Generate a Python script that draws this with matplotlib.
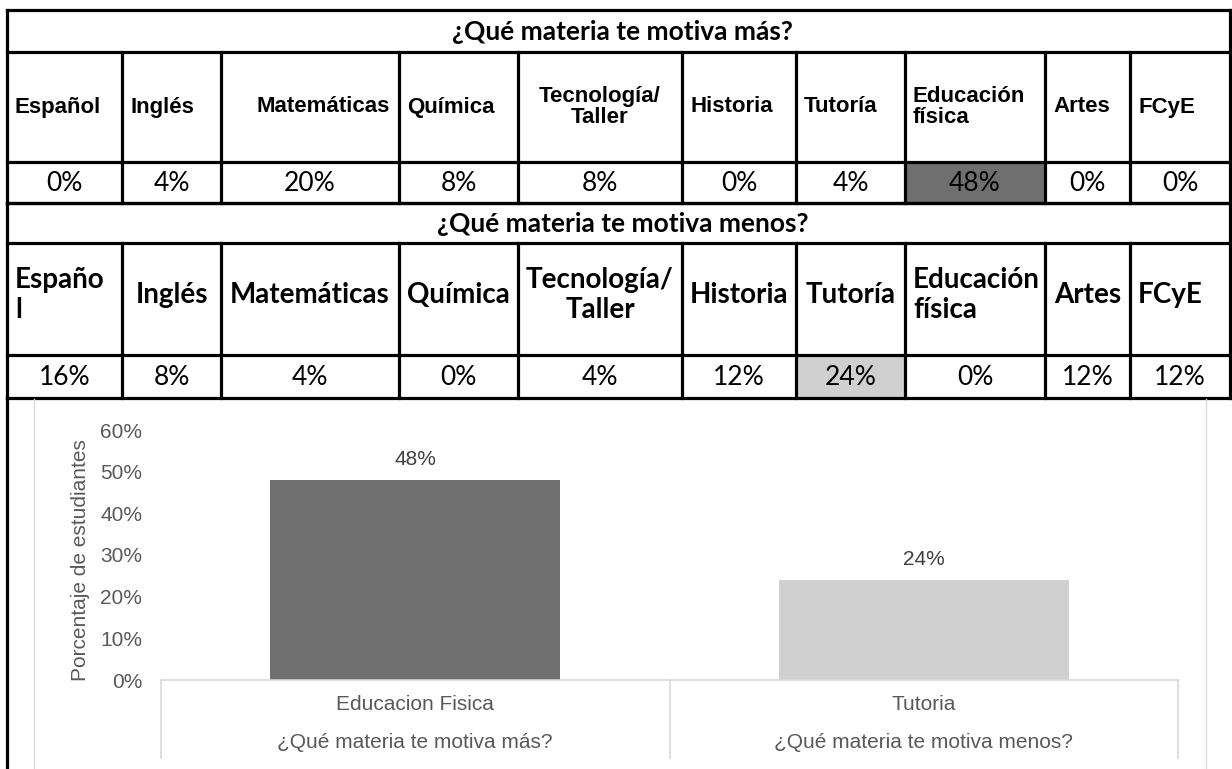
import matplotlib.pyplot as plt
from matplotlib.transforms import blended_transform_factory
from matplotlib.ticker import PercentFormatter

# datos de la tabla
titulo_mas = '¿Qué materia te motiva más?'
titulo_menos = '¿Qué materia te motiva menos?'
materias_mas = ['Español', 'Inglés', 'Matemáticas', 'Química', 'Tecnología/\nTaller',
                'Historia', 'Tutoría', 'Educación\nfísica', 'Artes', 'FCyE']
materias_menos = ['Españo\nl', 'Inglés', 'Matemáticas', 'Química', 'Tecnología/\nTaller',
                  'Historia', 'Tutoría', 'Educación\nfísica', 'Artes', 'FCyE']
pct_mas = [0, 4, 20, 8, 8, 0, 4, 48, 0, 0]
pct_menos = [16, 8, 4, 0, 4, 12, 24, 0, 12, 12]

# datos de la grafica
bar_names = ['Educacion Fisica', 'Tutoria']
bar_groups = [titulo_mas, titulo_menos]
bar_values = [48, 24]
bar_colors = ['#6f6f6f', '#d0d0d0']

W, H = 1232, 769
fig = plt.figure(figsize=(W / 100, H / 100), dpi=100)

# tabla dibujada en coordenadas de pixel
tab = fig.add_axes([0, 0, 1, 1])
tab.set_xlim(0, W)
tab.set_ylim(H, 0)
tab.axis('off')

col_x = [7, 122, 221, 399, 518, 682, 796, 905, 1045, 1130, 1230]
align_mas = ['left', 'left', 'right', 'left', 'center', 'left', 'left', 'left', 'left', 'left']
align_menos = ['left', 'center', 'center', 'center', 'center', 'center', 'center', 'left', 'center', 'left']
lw = 2.3


def hline(y, x0=col_x[0], x1=col_x[-1]):
    tab.plot([x0, x1], [y, y], color='black', lw=lw, solid_capstyle='projecting')


def vline(x, y0, y1):
    tab.plot([x, x], [y0, y1], color='black', lw=lw, solid_capstyle='projecting')


def block(top, rows, titulo, materias, valores, aligns, hfont, hsize, hspace, hshift, fill):
    y_title, y_head, y_val, y_end = top, top + rows[0], top + rows[0] + rows[1], top + sum(rows)
    # celda resaltada (valor maximo)
    i = valores.index(max(valores))
    tab.fill_between([col_x[i], col_x[i + 1]], y_val, y_end, color=fill, lw=0)
    hline(y_title)
    hline(y_head)
    hline(y_val)
    hline(y_end)
    vline(col_x[0], y_title, y_end)
    vline(col_x[-1], y_title, y_end)
    for x in col_x[1:-1]:
        vline(x, y_head, y_end)
    tab.text((col_x[0] + col_x[-1]) / 2 + 4, (y_title + y_head) / 2 + 1, titulo,
             family='Lato', weight='bold', fontsize=19, ha='center', va='center')
    for j, (name, v, a) in enumerate(zip(materias, valores, aligns)):
        x0, x1 = col_x[j], col_x[j + 1]
        xt = {'left': x0 + 8, 'right': x1 - 9, 'center': (x0 + x1) / 2}[a]
        tab.text(xt, (y_head + y_val) / 2 + hshift, name, family=hfont, weight='bold',
                 fontsize=hsize, ha=a, va='center', multialignment=a, linespacing=hspace)
        tab.text((x0 + x1) / 2, (y_val + y_end) / 2 + 1, f'{v}%', family='Lato',
                 fontsize=19, ha='center', va='center')


block(10, [42, 110, 41], titulo_mas, materias_mas, pct_mas, align_mas,
      'Liberation Sans', 16, 1.0, 0, '#6f6f6f')
block(203, [40, 112, 43], titulo_menos, materias_menos, pct_menos, align_menos,
      'Lato', 20, 1.15, -4, '#d0d0d0')

# bordes bajo la tabla y marco de la grafica
vline(col_x[0], 398, H + 5)
tab.plot([34, 34], [399, H], color='#d9d9d9', lw=1)
tab.plot([1206, 1206], [399, H], color='#d9d9d9', lw=1)

# grafica de barras
left, right, bottom, top = 161, 1178, 680, 430
ax = fig.add_axes([left / W, 1 - bottom / H, (right - left) / W, (bottom - top) / H])
ax.set_facecolor('none')
gray = '#595959'
x = range(len(bar_values))
bars = ax.bar(x, bar_values, width=0.57, color=bar_colors)
ax.bar_label(bars, labels=[f'{v}%' for v in bar_values], padding=8,
             family='Liberation Sans', fontsize=15, color='#404040')
ax.set_xlim(-0.5, len(bar_values) - 0.5)
ax.set_ylim(0, 60)
ax.set_yticks(range(0, 61, 10))
ax.yaxis.set_major_formatter(PercentFormatter(decimals=0))
ax.tick_params(axis='y', length=0, pad=13.5, labelsize=15, labelcolor=gray)
for lab in ax.get_yticklabels():
    lab.set_family('Liberation Sans')
ax.set_xticks([])
for s in ['top', 'right', 'left']:
    ax.spines[s].set_visible(False)
ax.spines['bottom'].set_color('#d9d9d9')
ax.spines['bottom'].set_linewidth(1.2)

ax.set_ylabel('Porcentaje de estudiantes', family='Liberation Sans', fontsize=15, color=gray)
ax.yaxis.set_label_coords(-0.07, 0.48)

trans = blended_transform_factory(ax.transData, ax.transAxes)
for xs in [-0.5 + k for k in range(len(bar_values) + 1)]:
    ax.plot([xs, xs], [0, -0.31], transform=trans, clip_on=False, color='#d9d9d9', lw=1.2)
for i, (name, grp) in enumerate(zip(bar_names, bar_groups)):
    ax.text(i, -0.1, name, transform=trans, ha='center', va='center',
            family='Liberation Sans', fontsize=15, color=gray)
    ax.text(i, -0.252, grp, transform=trans, ha='center', va='center',
            family='Liberation Sans', fontsize=15, color=gray)

fig.savefig('out.png', dpi=100)
